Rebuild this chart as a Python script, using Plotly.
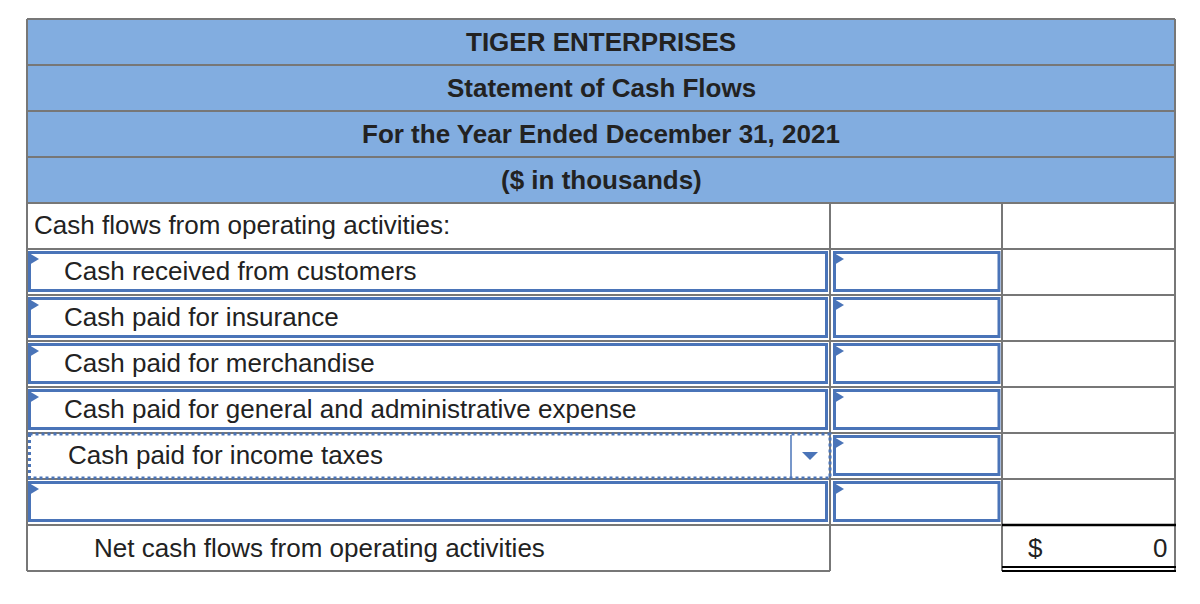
import plotly.graph_objects as go

# Statement content
title_lines = ["TIGER ENTERPRISES", "Statement of Cash Flows",
               "For the Year Ended December 31, 2021", "($ in thousands)"]
section_label = "Cash flows from operating activities:"
item_labels = ["Cash received from customers", "Cash paid for insurance",
               "Cash paid for merchandise",
               "Cash paid for general and administrative expense",
               "Cash paid for income taxes", ""]
dropdown_item = "Cash paid for income taxes"
total_label = "Net cash flows from operating activities"
total_currency = "$"
total_value = 0

# Colours
HEAD_FILL = "#82ade0"
GRID = "#777777"
BLUE = "#4a74b8"
TXT = "#222222"
FONT = "Liberation Sans, Arial, Helvetica, sans-serif"

# Table geometry (page pixel space; the page body has an 8px margin)
x0, x1, x2, x3 = 27, 830, 1002, 1175
top = 19
row_h = 46
PAD = 3  # annotation inner padding

fig = go.Figure()


def rect(xa, ya, xb, yb, color, width, dash="solid", fill=None):
    fig.add_shape(type="rect", x0=xa, y0=ya, x1=xb, y1=yb,
                  line=dict(color=color, width=width, dash=dash),
                  fillcolor=fill, layer="above")


def hline(xa, xb, y, color=GRID, width=2):
    fig.add_shape(type="line", x0=xa, x1=xb, y0=y, y1=y,
                  line=dict(color=color, width=width))


def vline(x, ya, yb, color=GRID, width=2):
    fig.add_shape(type="line", x0=x, x1=x, y0=ya, y1=yb,
                  line=dict(color=color, width=width))


def marker(x, y):
    # little blue flag at the top-left of an input box
    fig.add_shape(type="path", path=f"M {x} {y} L {x+10} {y+6} L {x} {y+12} Z",
                  fillcolor=BLUE, line=dict(width=0), layer="above")


def label(x, y, s, anchor="left", bold=False):
    if anchor == "left":
        x -= PAD
    elif anchor == "right":
        x += PAD
    fig.add_annotation(x=x, y=y, text=f"<b>{s}</b>" if bold else s,
                       xanchor=anchor, yanchor="middle", showarrow=False,
                       font=dict(family=FONT, size=26, color=TXT))


# header band
n_head = len(title_lines)
body_top = top + n_head * row_h
fig.add_shape(type="rect", x0=x0, x1=x3, y0=top, y1=body_top,
              fillcolor=HEAD_FILL, line=dict(width=0), layer="below")
for i, t in enumerate(title_lines):
    label((x0 + x3) / 2, top + i * row_h + row_h / 2, t, anchor="center", bold=True)
    hline(x0, x3, top + (i + 1) * row_h)

# body rows
n_rows = 1 + len(item_labels) + 1
bottom = body_top + n_rows * row_h
for r in range(1, n_rows):
    hline(x0, x3, body_top + r * row_h)
vline(x1, body_top, bottom)
vline(x2, body_top, bottom)
hline(x0, x3, top)
hline(x0, x1, bottom)
vline(x0, top, bottom)
vline(x3, top, bottom)

label(x0 + 8, body_top + row_h / 2 - 1, section_label)

for i, s in enumerate(item_labels):
    ya = body_top + (i + 1) * row_h
    yb = ya + row_h
    if s == dropdown_item:
        rect(x0 + 2.5, ya + 1, x1, yb - 1, BLUE, 3, dash="dot")
        vline(x1 - 39, ya + 2, yb - 2, color=BLUE, width=1.5)
        cx, cy = x1 - 20, ya + row_h / 2
        fig.add_shape(type="path",
                      path=f"M {cx-8} {cy-4} L {cx+8} {cy-4} L {cx} {cy+4} Z",
                      fillcolor=BLUE, line=dict(width=0), layer="above")
        label(x0 + 42, ya + row_h / 2 - 1, s)
    else:
        rect(x0 + 2.5, ya + 3.5, x1 - 3.5, yb - 4.5, BLUE, 3)
        marker(x0 + 2, ya + 4)
        if s:
            label(x0 + 38, ya + row_h / 2 - 1, s)
    rect(x1 + 4.5, ya + 3.5, x2 - 3, yb - 4.5, BLUE, 3)
    marker(x1 + 4, ya + 4)

# total row
ty = bottom - row_h
label(x0 + 68, ty + row_h / 2, total_label)
label(1029, ty + row_h / 2, total_currency)
label(1166, ty + row_h / 2, str(total_value), anchor="right")
hline(x2, x3 + 1, ty, color="#000000", width=2.5)
hline(x2, x3 + 1, bottom - 4, color="#000000", width=2)
hline(x2, x3 + 1, bottom, color="#000000", width=2)

fig.update_layout(
    width=1192, height=596,
    margin=dict(l=0, r=0, t=0, b=0),
    paper_bgcolor="white", plot_bgcolor="white",
    showlegend=False,
    xaxis=dict(range=[8, 1200], visible=False, fixedrange=True),
    yaxis=dict(range=[604, 8], visible=False, fixedrange=True),
)

fig.write_html("out.html")
